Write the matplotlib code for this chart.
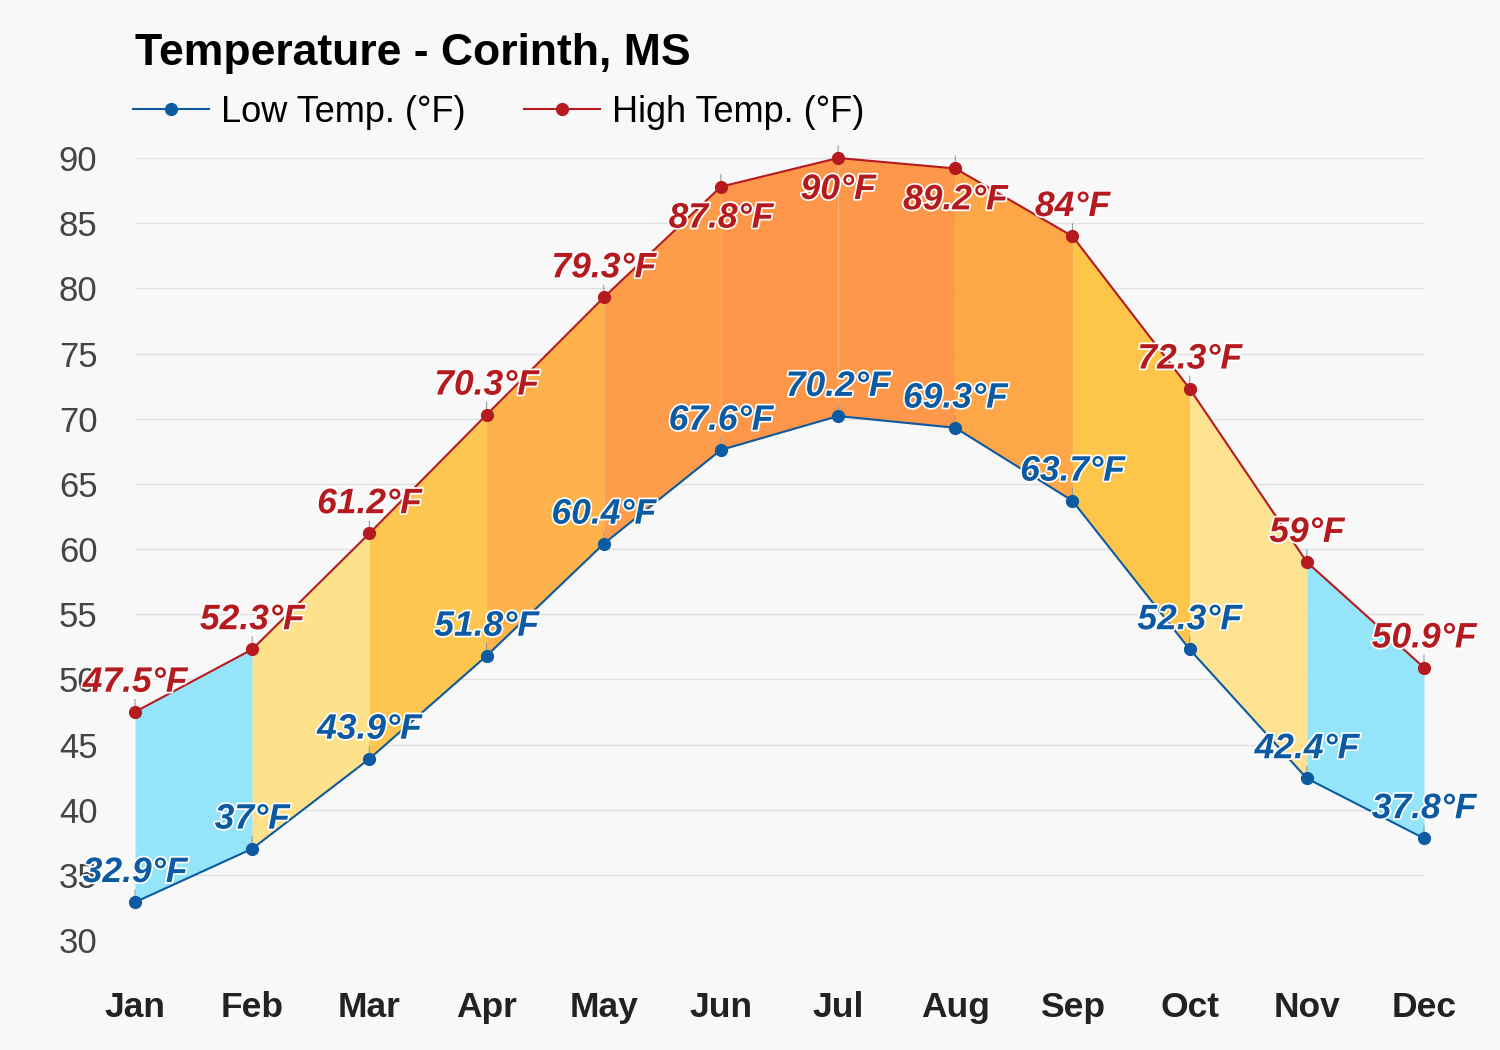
import matplotlib.pyplot as plt
import matplotlib.patheffects as pe

months = ["Jan", "Feb", "Mar", "Apr", "May", "Jun", "Jul", "Aug", "Sep", "Oct", "Nov", "Dec"]
low_temp = [32.9, 37.0, 43.9, 51.8, 60.4, 67.6, 70.2, 69.3, 63.7, 52.3, 42.4, 37.8]
high_temp = [47.5, 52.3, 61.2, 70.3, 79.3, 87.8, 90.0, 89.2, 84.0, 72.3, 59.0, 50.9]
y_ticks = [30, 35, 40, 45, 50, 55, 60, 65, 70, 75, 80, 85, 90]

# colour of the band between month i and i+1
band_colors = ["#94e4fa", "#fde18b", "#fdc650", "#fdb24b", "#fd9c4a", "#fd9649",
               "#fd974a", "#fda748", "#fdc64b", "#fde292", "#94e4fa"]

low_c = "#0c5aa2"
high_c = "#b51a1f"
bg = "#f8f8f8"

plt.rcParams['font.family'] = ['Liberation Sans', 'DejaVu Sans']

fig = plt.figure(figsize=(15, 10.5), dpi=100, facecolor=bg)
ax = fig.add_axes([135 / 1500, 1 - 940 / 1050, 1289 / 1500, 782 / 1050])
ax.set_facecolor(bg)

x = list(range(len(months)))
for i in range(len(months) - 1):
    ax.fill_between([i, i + 1], [low_temp[i], low_temp[i + 1]], [high_temp[i], high_temp[i + 1]],
                    color=band_colors[i], lw=0, zorder=2)

ax.plot(x, low_temp, color=low_c, lw=1.5, marker='o', ms=8.5, zorder=4, clip_on=False,
        label="Low Temp. (°F)")
ax.plot(x, high_temp, color=high_c, lw=1.5, marker='o', ms=8.5, zorder=4, clip_on=False,
        label="High Temp. (°F)")

stroke = [pe.withStroke(linewidth=2.5, foreground="white")]
for series, col in ((low_temp, low_c), (high_temp, high_c)):
    for i, v in enumerate(series):
        ax.annotate("", xy=(i, v), xytext=(0, 9), textcoords="offset points",
                    arrowprops=dict(arrowstyle="-", color="#999999", lw=0.8,
                                    shrinkA=0, shrinkB=0), zorder=3)
        # labels near the top go under the point
        dy = -29.5 if v > 85 else 14.5
        ax.annotate(f"{v:g}°F", xy=(i, v), xytext=(0, dy), textcoords="offset points",
                    ha="center", va="baseline", fontsize=25.5, fontweight="bold",
                    fontstyle="italic", color=col, path_effects=stroke, zorder=5)

ax.set_xlim(0, 11)
ax.set_ylim(30, 90)
ax.set_yticks(y_ticks)
ax.set_xticks(x)
ax.set_xticklabels(months, fontsize=25.5, fontweight="bold", color="#222222")
ax.tick_params(axis='x', length=0, pad=37)
ax.tick_params(axis='y', length=0, pad=27, labelsize=25, labelcolor="#444444")
ax.grid(axis='y', color="#e0e0e0", lw=1, zorder=0)
ax.set_axisbelow(True)
for s in ax.spines.values():
    s.set_visible(False)

fig.text(135 / 1500, 1 - 65 / 1050, "Temperature - Corinth, MS", fontsize=32,
         fontweight="bold", color="black", va="baseline", ha="left")

fig.legend(loc="center left", bbox_to_anchor=(133 / 1500, 1 - 112 / 1050), ncol=2,
           frameon=False, fontsize=26, handlelength=2.1, handletextpad=0.35,
           columnspacing=1.6, borderpad=0, borderaxespad=0)

fig.savefig("out.png", dpi=100, facecolor=bg)
